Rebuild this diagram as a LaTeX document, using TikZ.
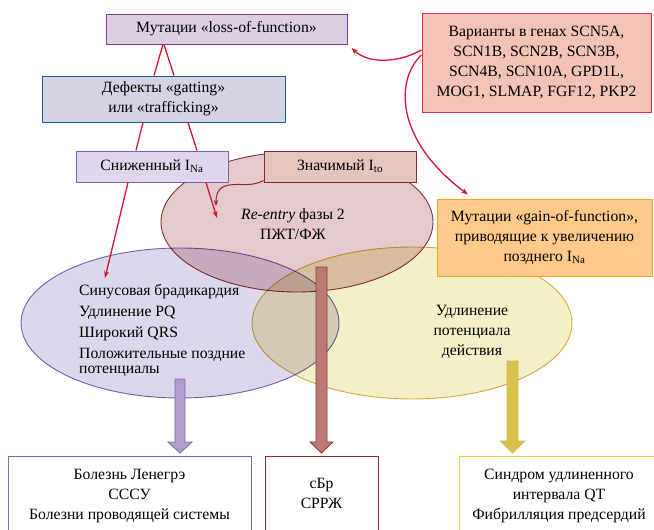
\documentclass[tikz,border=0pt]{standalone}
\usepackage{fontspec}
\setmainfont{Liberation Serif}
\usetikzlibrary{shapes.geometric,arrows.meta}
\definecolor{redc}{RGB}{214,20,50}
\definecolor{lossF}{RGB}{220,207,226}
\definecolor{lossD}{RGB}{124,61,150}
\definecolor{varF}{RGB}{244,195,184}
\definecolor{varD}{RGB}{224,48,74}
\definecolor{defF}{RGB}{211,211,227}
\definecolor{defD}{RGB}{31,90,154}
\definecolor{snF}{RGB}{222,214,234}
\definecolor{snD}{RGB}{127,96,176}
\definecolor{znF}{RGB}{229,198,190}
\definecolor{znD}{RGB}{142,42,46}
\definecolor{gainF}{RGB}{253,202,139}
\definecolor{gainD}{RGB}{246,165,42}
\definecolor{brF}{RGB}{228,202,205}
\definecolor{brD}{RGB}{142,58,58}
\definecolor{puF}{RGB}{221,215,235}
\definecolor{puD}{RGB}{123,104,180}
\definecolor{yeF}{RGB}{243,239,199}
\definecolor{yeD}{RGB}{213,181,69}
\definecolor{puA}{RGB}{176,158,200}
\definecolor{brA}{RGB}{185,122,115}
\definecolor{yeA}{RGB}{214,194,76}
\definecolor{yeB}{RGB}{240,208,64}
\newcommand\fatarrow[7]{%
  \path[#1] (#2-#6,#3) -- (#2+#6,#3) -- (#2+#6,#4) -- (#2+#7,#4) -- (#2,#5)
    -- (#2-#7,#4) -- (#2-#6,#4) -- cycle;}
\tikzset{
  box/.style={draw, line width=1pt, inner sep=0pt, align=center},
  redln/.style={draw=redc, line width=1.3pt},
  redar/.style={redln, -{Stealth[length=7pt,width=5pt]}},
  ell/.style={ellipse, line width=0.9pt, inner sep=0pt},
  bottombox/.style={draw, line width=1pt, anchor=north, align=center, inner ysep=12.5pt, text depth=40pt},
}
\begin{document}
\begin{tikzpicture}[x=1pt,y=-1pt,font=\fontsize{15.7}{20}\selectfont]
\useasboundingbox (0,0) rectangle (654,530);
\clip (0,0) rectangle (654,530);
\fill[white] (0,0) rectangle (654,530);
% ellipses
\begin{scope}[blend mode=multiply]
\node[ell, draw=puD, fill=puF, minimum width=318, minimum height=150] (pe) at (180,323) {};
\node[ell, draw=yeD, fill=yeF, minimum width=320, minimum height=152] (ye) at (412,323) {};
\node[ell, draw=brD, fill=brF, minimum width=272, minimum height=140] (be) at (297,222) {};
\end{scope}
% ellipse texts
\node[anchor=north west, align=left, inner sep=0pt] (pet) at (79,284.5) {Синусовая брадикардия\\[1pt] Удлинение PQ\\[1pt] Широкий QRS\\[1pt] Положительные поздние\\[-5pt] потенциалы};
\node[align=center, inner sep=0pt] (yet) at (472,332) {Удлинение\\ потенциала\\ действия};
\node[align=center, inner sep=0pt] (bet) at (293,224) {\textit{Re-entry} фазы 2\\ ПЖТ/ФЖ};
% boxes
\node[box, draw=lossD, fill=lossF, minimum width=241, minimum height=30] (loss) at (226.5,29) {Мутации «loss-of-function»};
\node[box, draw=varD, fill=varF, minimum width=229, minimum height=99] (var) at (536.5,62.5) {Варианты в генах SCN5A,\\ SCN1B, SCN2B, SCN3B,\\ SCN4B, SCN10A, GPD1L,\\ MOG1, SLMAP, FGF12, PKP2};
\node[box, draw=defD, fill=defF, minimum width=243, minimum height=46] (def) at (163.5,99) {Дефекты «gatting»\\ или «trafficking»};
\node[box, draw=snD, fill=snF, minimum width=152, minimum height=31] (sn) at (152,166.5) {Сниженный I\textsubscript{Na}};
\node[box, draw=znD, fill=znF, minimum width=152, minimum height=31] (zn) at (340,166.5) {Значимый I\textsubscript{to}};
\node[box, draw=gainD, fill=gainF, minimum width=215, minimum height=77] (gain) at (544.5,237.5) {Мутации «gain-of-function»,\\ приводящие к увеличению\\ позднего I\textsubscript{Na}};
% bottom boxes
\node[bottombox, draw=puD, minimum width=243] (b1) at (129.5,456) {Болезнь Ленегрэ\\ СССУ\\ Болезни проводящей системы};
\node[bottombox, draw=znD, minimum width=113, inner ysep=22pt] (b2) at (321.5,456) {сБр\\ СРРЖ};
\node[bottombox, draw=yeB, minimum width=200] (b3) at (559,456) {Синдром удлиненного\\ интервала QT\\ Фибрилляция предсердий};
% thin red connectors
\draw[redln] ([xshift=-63.5pt]loss.south) -- ([xshift=-9.5pt]def.north);
\draw[redln] ([xshift=-62.5pt]loss.south) -- ([xshift=10.5pt]def.north);
\draw[redln] ([xshift=-20.5pt]def.south) -- ([xshift=-16pt]sn.north);
\draw[redln] ([xshift=24.5pt]def.south) -- ([xshift=45pt]sn.north);
\draw[redar] ([xshift=-24pt]sn.south) -- ([shift={(-75,-45)}]pe.center);
\draw[redar] ([xshift=54pt]sn.south) -- ([shift={(-80,-4)}]be.center);
\draw[draw=znD, line width=1pt, -{Stealth[length=6pt,width=4.5pt]}] ([yshift=2pt]zn.south west) .. controls (250,188) and (238,182) .. (225,186) .. controls (217,189) and (216,196) .. ([shift={(-81,-16)}]be.center);
\draw[redar] ([yshift=12.5pt]var.west) .. controls (400,62) and (370,65) .. ([shift={(4,19)}]loss.east);
\draw[redar] ([yshift=7.5pt]var.west) .. controls (395,80) and (395,140) .. ([shift={(-76.5,-4)}]gain.north);
% fat arrows
\fatarrow{draw=puD, fill=puA, line width=0.8pt}{180}{379}{442}{453}{5}{12}
\fatarrow{draw=brD, fill=brA, line width=0.8pt}{321.5}{267}{442}{453}{5.5}{11.5}
\fatarrow{draw=yeD, fill=yeA, line width=0.8pt}{512.5}{361}{441}{453}{5.5}{12}
\end{tikzpicture}
\end{document}
